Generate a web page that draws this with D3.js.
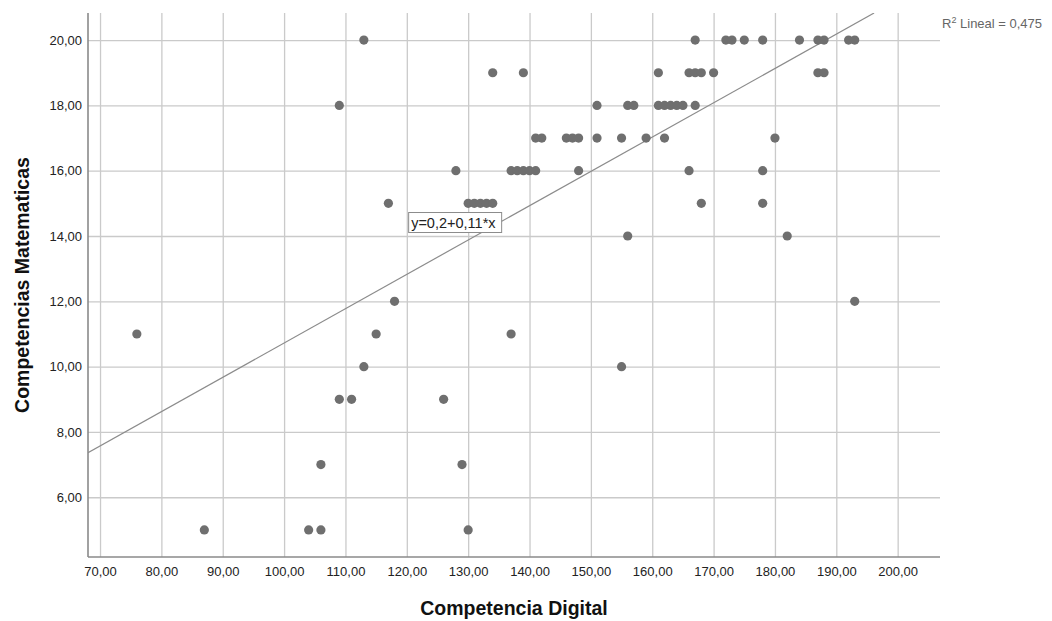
<!DOCTYPE html>
<html>
<head>
<meta charset="utf-8">
<script src="https://cdn.jsdelivr.net/npm/d3@7"></script>
<style>
  body { margin: 0; background: #fff; }
  text { font-family: "Liberation Sans", Arial, sans-serif; }
</style>
</head>
<body>
<div id="chart"></div>
<script>
var competenciaDigital = [
  113, 167, 172, 173, 175, 178, 184, 187, 188, 192, 193,
  134, 139, 161, 166, 167, 168, 170, 187, 188,
  109, 151, 156, 157, 161, 162, 163, 164, 165, 167,
  141, 142, 146, 147, 148, 151, 155, 159, 162, 180,
  128, 137, 138, 139, 140, 141, 148, 166, 178,
  117, 130, 131, 132, 133, 134, 168, 178,
  156, 182,
  118, 193,
  76, 115, 137,
  113, 155,
  109, 111, 126,
  106, 129,
  87, 104, 106, 130
];
var competenciasMatematicas = [
  20, 20, 20, 20, 20, 20, 20, 20, 20, 20, 20,
  19, 19, 19, 19, 19, 19, 19, 19, 19,
  18, 18, 18, 18, 18, 18, 18, 18, 18, 18,
  17, 17, 17, 17, 17, 17, 17, 17, 17, 17,
  16, 16, 16, 16, 16, 16, 16, 16, 16,
  15, 15, 15, 15, 15, 15, 15, 15,
  14, 14,
  12, 12,
  11, 11, 11,
  10, 10,
  9, 9, 9,
  7, 7,
  5, 5, 5, 5
];

// tick values
var xTicks = [70, 80, 90, 100, 110, 120, 130, 140, 150, 160, 170, 180, 190, 200];
var yTicks = [6, 8, 10, 12, 14, 16, 18, 20];

// fitted line as drawn in the picture
var fitIntercept = 0.214;
var fitSlope = 0.1051;
var fitLabel = "y=0,2+0,11*x";
var r2Label = "0,475";

var width = 1052, height = 621;
var plot = { left: 88, right: 940, top: 13, bottom: 557 };

var fmt = function (d) { return d3.format(".2f")(d).replace(".", ","); };

var x = d3.scaleLinear().domain([68.04, 206.9]).range([plot.left, plot.right]);
var y = d3.scaleLinear().domain([4.17, 20.83]).range([plot.bottom, plot.top]);

var svg = d3.select("#chart").append("svg")
  .attr("width", width).attr("height", height);

// grid lines
svg.append("g").attr("transform", "translate(0," + plot.bottom + ")")
  .call(d3.axisBottom(x).tickValues(xTicks).tickSize(-(plot.bottom - plot.top)).tickFormat(""))
  .call(function (g) { g.select(".domain").remove(); })
  .selectAll("line").attr("stroke", "#cacaca").attr("stroke-width", 1.3);

svg.append("g").attr("transform", "translate(" + plot.left + ",0)")
  .call(d3.axisLeft(y).tickValues(yTicks).tickSize(-(plot.right - plot.left)).tickFormat(""))
  .call(function (g) { g.select(".domain").remove(); })
  .selectAll("line").attr("stroke", "#cacaca").attr("stroke-width", 1.3);

// axis labels
var xAxis = svg.append("g").attr("transform", "translate(0," + plot.bottom + ")")
  .call(d3.axisBottom(x).tickValues(xTicks).tickSize(0).tickPadding(10).tickFormat(fmt));
xAxis.select(".domain").remove();
xAxis.selectAll("text").attr("font-size", 13).attr("fill", "#222")
  .style("font-family", "'Liberation Sans', Arial, sans-serif");

var yAxis = svg.append("g").attr("transform", "translate(" + plot.left + ",0)")
  .call(d3.axisLeft(y).tickValues(yTicks).tickSize(0).tickPadding(6).tickFormat(fmt));
yAxis.select(".domain").remove();
yAxis.selectAll("text").attr("font-size", 13).attr("fill", "#222")
  .style("font-family", "'Liberation Sans', Arial, sans-serif");

// axis lines
svg.append("line").attr("x1", plot.left).attr("x2", plot.left)
  .attr("y1", plot.top).attr("y2", plot.bottom)
  .attr("stroke", "#8a8a8a").attr("stroke-width", 1.6);
svg.append("line").attr("x1", plot.left).attr("x2", plot.right)
  .attr("y1", plot.bottom).attr("y2", plot.bottom)
  .attr("stroke", "#8a8a8a").attr("stroke-width", 1.6);

// clip region for the fit line
svg.append("clipPath").attr("id", "plotclip").append("rect")
  .attr("x", plot.left).attr("y", plot.top)
  .attr("width", plot.right - plot.left).attr("height", plot.bottom - plot.top);

var xs = x.domain();
var xEnd = (y.domain()[1] - fitIntercept) / fitSlope;
svg.append("line").attr("clip-path", "url(#plotclip)")
  .attr("x1", x(xs[0])).attr("y1", y(fitIntercept + fitSlope * xs[0]))
  .attr("x2", x(xEnd)).attr("y2", y(fitIntercept + fitSlope * xEnd))
  .attr("stroke", "#8c8c8c").attr("stroke-width", 1.2);

// points
svg.append("g").selectAll("circle")
  .data(competenciaDigital.map(function (d, i) { return [d, competenciasMatematicas[i]]; }))
  .enter().append("circle")
  .attr("cx", function (d) { return x(d[0]); })
  .attr("cy", function (d) { return y(d[1]); })
  .attr("r", 4.6)
  .attr("fill", "#6f6f6f");

// equation label
var eq = svg.append("g").attr("transform", "translate(" + x(120.3) + "," + y(14.72) + ")");
eq.append("rect").attr("x", 0).attr("y", 0).attr("width", 93).attr("height", 20)
  .attr("fill", "#fff").attr("stroke", "#8c8c8c").attr("stroke-width", 1);
eq.append("text").attr("x", 2.5).attr("y", 15).attr("font-size", 14.5).attr("fill", "#222").text(fitLabel);

// R2 label
var r2 = svg.append("text").attr("x", 942).attr("y", 28).attr("font-size", 13).attr("fill", "#666");
r2.append("tspan").text("R");
r2.append("tspan").attr("font-size", 9).attr("dy", -5).text("2");
r2.append("tspan").attr("dy", 5).text(" Lineal = " + r2Label);

// titles
svg.append("text").attr("x", (plot.left + plot.right) / 2).attr("y", 615)
  .attr("text-anchor", "middle").attr("font-size", 19.5).attr("font-weight", "bold")
  .attr("fill", "#111").text("Competencia Digital");

svg.append("text")
  .attr("transform", "translate(29," + (plot.top + plot.bottom) / 2 + ") rotate(-90)")
  .attr("text-anchor", "middle").attr("font-size", 19.5).attr("font-weight", "bold")
  .attr("fill", "#111").text("Competencias Matematicas");
</script>
</body>
</html>
